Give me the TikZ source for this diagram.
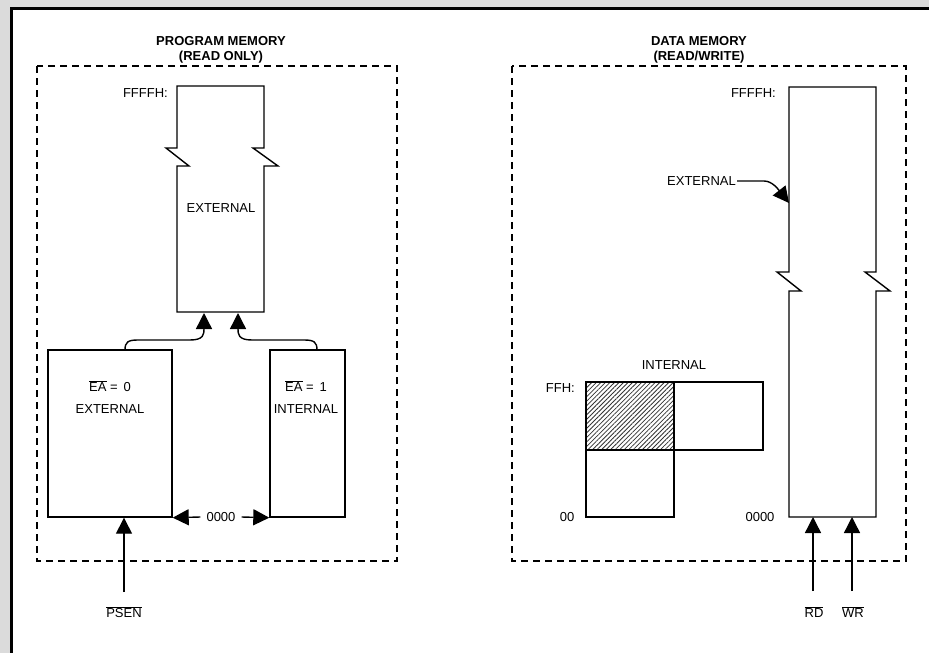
\documentclass[tikz,border=0pt]{standalone}
\usepackage{fontspec}
\setmainfont{Liberation Sans}
\usetikzlibrary{arrows.meta,patterns.meta}

\tikzset{
  blk/.style={draw, line width=1.4pt},
  region/.style={draw, line width=1.4pt, dash pattern=on 7pt off 5pt},
  arr/.style={line width=1.4pt, -{Triangle[length=16pt,width=16pt]}},
  lbl/.style={font=\fontsize{13}{15}\selectfont, inner sep=1pt},
  ttl/.style={font=\fontsize{13}{15}\selectfont\bfseries, align=center, inner sep=0pt},
}
\newcommand{\ovl}[1]{$\overline{\mbox{#1}}$}

\begin{document}
\begin{tikzpicture}[x=1pt,y=-1pt]
\useasboundingbox (0,0) rectangle (929,653);

% sheet frame
\fill[black!14] (0,0) rectangle (929,653);
\fill[white] (12,9) rectangle (929,653);
\draw[line width=3pt] (11.5,653) -- (11.5,8.5) -- (929,8.5);

% headings
\node[ttl] (ptitle) at (221,50) {PROGRAM MEMORY\\(READ ONLY)};
\node[ttl] (dtitle) at (699,50) {DATA MEMORY\\(READ/WRITE)};

% dashed areas
\draw[region] (37,66) rectangle (397,561);
\draw[region] (512,66) rectangle (906,561);

% ---------- program memory ----------
\coordinate (pextsw) at (177,312);
\coordinate (pextse) at (264,312);
\draw[blk] (pextsw) -- (177,166) -- (189,166) -- (166,148) -- (177,148) -- (177,86)
  -- (264,86) -- (264,148) -- (253,148) -- (278,166) -- (264,166) -- (pextse) -- cycle;
\node[lbl] (pext) at (221,208) {EXTERNAL};
\node[lbl, anchor=east] (pffff) at (169,93) {FFFFH:};

\node[blk, minimum width=124pt, minimum height=167pt, inner sep=0pt] (ea0) at (110,433.5) {};
\node[blk, minimum width=75pt, minimum height=167pt, inner sep=0pt] (ea1) at (307.5,433.5) {};
\node[lbl, align=center] (ea0t) at (110,397) {\ovl{EA} = \,0\\[7pt]EXTERNAL};
\node[lbl, align=center] (ea1t) at (306,397) {\ovl{EA} = \,1\\[7pt]INTERNAL};

% paths into the external program space
\coordinate (ea0top) at (125,350);
\coordinate (ea1top) at (317,350);
\coordinate (tipL) at (204,313);
\coordinate (tipR) at (238,313);
\draw[arr] (ea0top) .. controls (125,342) and (128,340) .. (138,340) -- (190,340)
  .. controls (204,340) and (204,334) .. (tipL);
\draw[arr] (ea1top) .. controls (317,342) and (314,340) .. (304,340) -- (252,340)
  .. controls (238,340) and (238,334) .. (tipR);

% address 0000
\node[lbl, inner xsep=6pt] (zero) at (221,517) {0000};
\draw[arr] (zero.west) -- (ea0.south east);
\draw[arr] (zero.east) -- (ea1.south west);

% PSEN strobe
\node[lbl] (psen) at (124,612) {\ovl{PSEN}};
\coordinate (psentail) at (124,592);
\draw[arr] (psentail) -- (psentail |- ea0.south);

% ---------- data memory ----------
\coordinate (dextsw) at (789,517);
\coordinate (dextse) at (876,517);
\draw[blk] (dextsw) -- (789,291) -- (801,291) -- (777,272) -- (789,272) -- (789,87)
  -- (876,87) -- (876,272) -- (865,272) -- (890,291) -- (876,291) -- (dextse) -- cycle;
\node[lbl, anchor=east] (dffff) at (777,93) {FFFFH:};
\node[lbl, anchor=east] (dext) at (737,181) {EXTERNAL};
\coordinate (dexthit) at (789,203);
\draw[arr] (dext.east) -- (764,181) .. controls (772,181) and (778,189) .. (dexthit);

% internal RAM
\fill[pattern={Lines[angle=45,distance=3.2pt,line width=0.8pt]}, pattern color=black!80]
  (586,382) rectangle (674,450);
\node[blk, minimum width=88pt, minimum height=68pt, inner sep=0pt] (hatch) at (630,416) {};
\node[blk, minimum width=89pt, minimum height=68pt, inner sep=0pt] (upper) at (718.5,416) {};
\node[blk, minimum width=88pt, minimum height=67pt, inner sep=0pt] (lower) at (630,483.5) {};
\node[lbl] (intl) at (674,365) {INTERNAL};
\node[lbl, anchor=east] (ffh) at (576,388) {FFH:};
\node[lbl] (d00) at (567,517) {00};
\node[lbl] (d0000) at (760,517) {0000};

% RD / WR strobes
\node[lbl] (rd) at (814,612) {\ovl{RD}};
\node[lbl] (wr) at (853,612) {\ovl{WR}};
\coordinate (rdtail) at (813,591);
\coordinate (wrtail) at (852,591);
\draw[arr] (rdtail) -- (rdtail |- dextsw);
\draw[arr] (wrtail) -- (wrtail |- dextsw);
\end{tikzpicture}
\end{document}
